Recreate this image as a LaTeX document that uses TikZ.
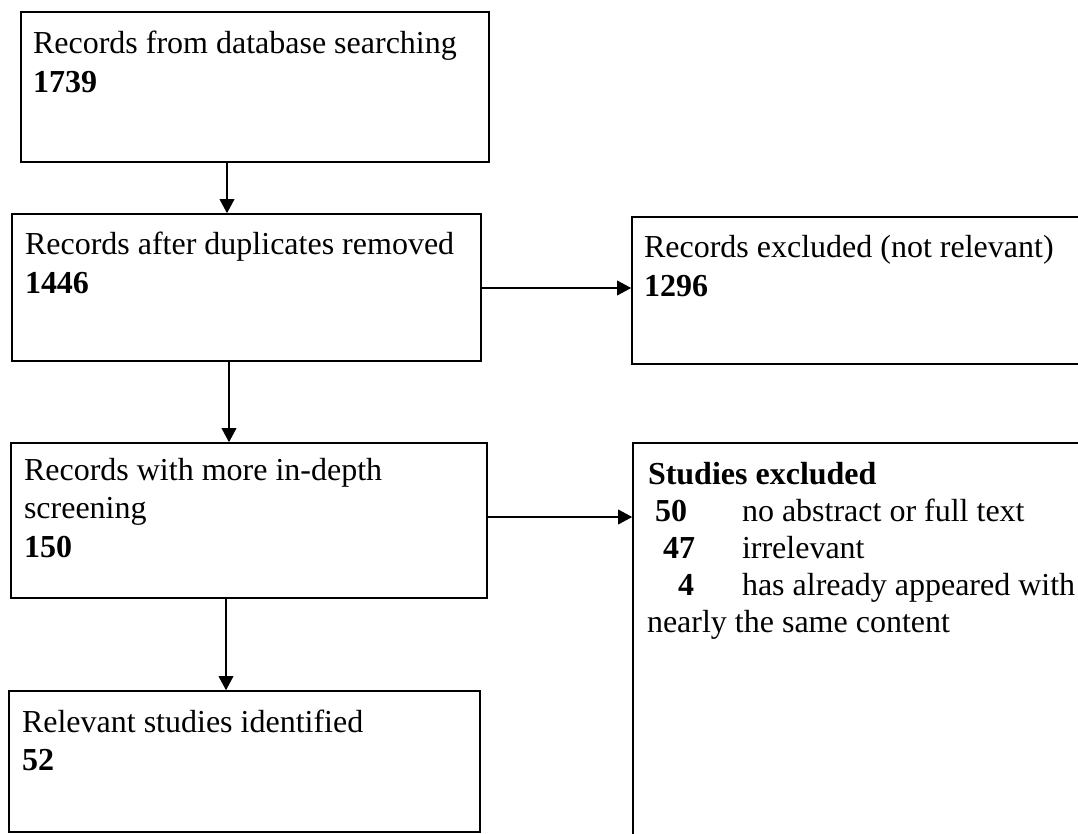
\documentclass[tikz,border=0pt]{standalone}
\usepackage{fontspec}
\setmainfont{Liberation Serif}
\usetikzlibrary{arrows.meta,fit}
\begin{document}
\begin{tikzpicture}[x=0.75pt,y=-0.75pt,
  box/.style={draw=black,line width=1.2pt,inner sep=0pt,rectangle},
  txt/.style={anchor=base west,inner sep=0pt,outer sep=0pt,font=\fontsize{24}{29}\selectfont},
  arr/.style={draw=black,line width=1pt,-{Triangle[length=10.5pt,width=11pt]}}]
\useasboundingbox (0,0) rectangle (1078,834);
\begin{scope}
\clip (0,0) rectangle (1078,834);
% boxes
\node[box,fit={(21,12) (489,162)}] (b1) {};
\node[box,fit={(12,214) (481,361)}] (b2) {};
\node[box,fit={(632,217) (1110,364)}] (b3) {};
\node[box,fit={(11,443) (487,598)}] (b4) {};
\node[box,fit={(633,443) (1110,870)}] (b5) {};
\node[box,fit={(9,691) (480,832)}] (b6) {};
% texts
\node[txt] (t1a) at (33,54) {Records from database searching};
\node[txt] (t1b) at (33,92.5) {\textbf{1739}};
\node[txt] (t2a) at (25,255) {Records after duplicates removed};
\node[txt] (t2b) at (25,293.5) {\textbf{1446}};
\node[txt] (t3a) at (644,258) {Records excluded (not relevant)};
\node[txt] (t3b) at (644,296.5) {\textbf{1296}};
\node[txt] (t4a) at (24,480) {Records with more in-depth};
\node[txt] (t4b) at (24,518.5) {screening};
\node[txt] (t4c) at (24,557) {\textbf{150}};
\node[txt] (t6a) at (22,732) {Relevant studies identified};
\node[txt] (t6b) at (22,770.5) {\textbf{52}};
\node[txt] (t5a) at (648,484) {\textbf{Studies excluded}};
\node[txt] (t5b) at (655,521) {\textbf{50}};
\node[txt] (t5c) at (742,521) {no abstract or full text};
\node[txt] (t5d) at (663,558) {\textbf{47}};
\node[txt] (t5e) at (742,558) {irrelevant};
\node[txt] (t5f) at (678,595) {\textbf{4}};
\node[txt] (t5g) at (742,595) {has already appeared with};
\node[txt] (t5h) at (647,632) {nearly the same content};
% connector guides
\coordinate (cx1) at (227,0);
\coordinate (cx2) at (229,0);
\coordinate (cx3) at (226,0);
\coordinate (cy1) at (0,288);
\coordinate (cy2) at (0,517);
% connectors
\draw[arr] (b1.south -| cx1) -- (b2.north -| cx1);
\draw[arr] (b2.south -| cx2) -- (b4.north -| cx2);
\draw[arr] (b4.south -| cx3) -- (b6.north -| cx3);
\draw[arr] (b2.east |- cy1) -- (b3.west |- cy1);
\draw[arr] (b4.east |- cy2) -- (b5.west |- cy2);
\end{scope}
\end{tikzpicture}
\end{document}
